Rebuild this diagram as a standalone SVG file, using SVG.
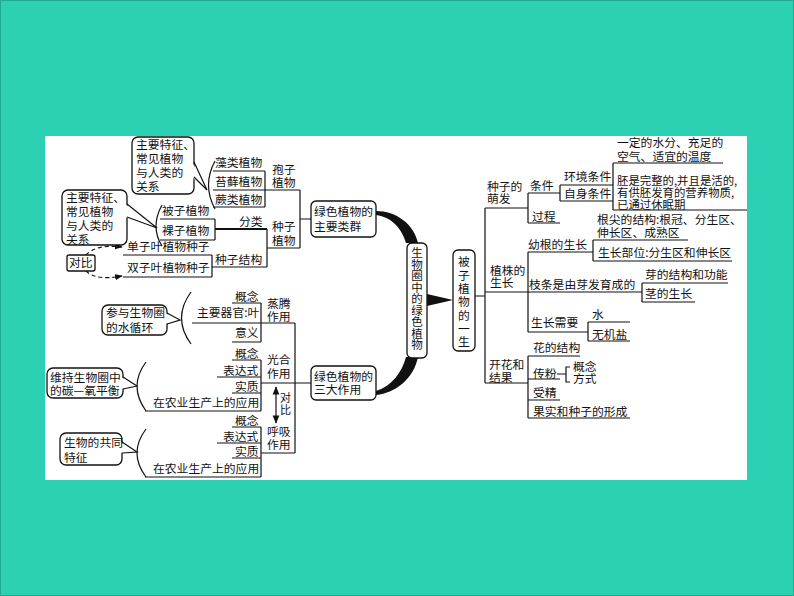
<svg xmlns="http://www.w3.org/2000/svg" width="794" height="596" viewBox="0 0 794 596">
<style>
text{font-family:"Noto Sans CJK SC","Noto Sans",sans-serif;font-size:11.8px;fill:#111}
.sm{font-size:11px}
.ln{fill:none;stroke:#111;stroke-width:1.2}
.bx{fill:#fff;stroke:#111;stroke-width:1.3}
.tail{fill:#fff;stroke:none}
.thk{stroke-width:2}
.dash{fill:none;stroke:#111;stroke-width:1.1;stroke-dasharray:4 3}
.wedge{fill:#111}
.vt{writing-mode:vertical-rl}
.tight{font-size:11.4px}
</style>
<defs>
<marker id="ah" viewBox="0 0 10 10" refX="9" refY="5" markerWidth="7" markerHeight="7" orient="auto-start-reverse">
<path d="M0,1 L10,5 L0,9 Z" fill="#111"/>
</marker>
</defs>
<rect x="0" y="0" width="794" height="596" fill="#2cd0b3"/>
<rect x="0.5" y="0.5" width="793" height="595" fill="none" stroke="#24a892" stroke-width="1"/>
<rect x="45" y="136" width="702" height="344" fill="#fff"/>

<g id="connectors">
<path class="ln" d="M213,171H265M213,190H265M213,207H265M265,171V207M265,190H300"/>
<path class="ln" d="M215,161Q202,185 215,209"/>
<path class="ln" d="M160,219H215M160,240H215M215,219V240"/>
<path class="ln thk" d="M215,229H267"/>
<path class="ln" d="M212,267H267M267,229V267M267,248H300M300,190V248M300,219H311"/>
<path class="ln" d="M162,205Q150,227 162,246"/>
<path class="ln" d="M123,255H212M123,277H212M212,255V277"/>
<path class="dash" d="M86,255Q96,244 122,247" marker-end="url(#ah)"/>
<path class="dash" d="M86,271Q96,281 122,276" marker-end="url(#ah)"/>
<path class="ln" d="M232,303H261M192,323H295M232,342H261M261,303V342"/>
<path class="ln" d="M191,292Q172,318 191,344"/>
<path class="ln" d="M232,360H261M217,377H261M232,393H261M145,411H261M261,360V411M261,383H311"/>
<path class="ln" d="M146,362Q128,386 146,411"/>
<path class="ln" d="M232,427H261M217,443H261M232,458H261M145,477H261M261,427V477M261,453H295"/>
<path class="ln" d="M146,429Q128,453 146,477"/>
<path class="ln" d="M295,323V453"/>
<path class="ln" d="M276,387V423" marker-start="url(#ah)" marker-end="url(#ah)"/>
<path class="wedge" d="M376,211C396,211 414,224 418,243L406,243C402,229 392,217 376,215Z"/>
<path class="wedge" d="M376,395C396,393 414,378 418,357L406,357C402,372 392,386 376,391Z"/>
<path class="wedge" d="M427,294L453,300L427,306Z"/>
<path class="ln" d="M475,296H485M485,208V383M485,208H528M528,193V223M528,193H560M528,223H560"/>
<path class="ln" d="M560,185V201M560,185H613M560,201H613M613,163V210M613,163H723M613,210H747"/>
<path class="ln" d="M528,252H593M593,240V261M593,240H688M593,261H732"/>
<path class="ln" d="M485,292H528M528,252V332M528,292H642M642,283V302M642,283H728M642,302H695"/>
<path class="ln" d="M528,332H588M588,322V341M588,322H630M588,341H630"/>
<path class="ln" d="M485,383H528M528,356V418M528,356H580M528,379H560M557,374H566M570,367H566V382H570M528,400H560M528,418H630"/>
</g>

<g id="callout-top1">
<rect class="bx" x="132" y="137" width="62" height="57" rx="6"/>
<path class="tail" d="M192,162L207,190L192,177Z"/>
<path class="ln" d="M194,162L207,190L194,177"/>
<text x="136" y="149">主要特征、<tspan x="136" dy="14">常见植物</tspan><tspan x="136" dy="14">与人类的</tspan><tspan x="136" dy="14">关系</tspan></text>
</g>
<g id="callout-top2">
<rect class="bx" x="62" y="190" width="65" height="55" rx="6"/>
<path class="tail" d="M125,204L157,228L125,217Z"/>
<path class="ln" d="M127,204L157,228L127,217"/>
<text x="66" y="202">主要特征、<tspan x="66" dy="14">常见植物</tspan><tspan x="66" dy="14">与人类的</tspan><tspan x="66" dy="14">关系</tspan></text>
</g>
<g id="n-zaolei"><text x="215" y="167">藻类植物</text></g>
<g id="n-taixian"><text x="215" y="186">苔藓植物</text></g>
<g id="n-juelei"><text x="215" y="204">蕨类植物</text></g>
<g id="n-baozi"><text x="272" y="174">孢子<tspan x="272" dy="13">植物</tspan></text></g>
<g id="n-beizi"><text x="162" y="215">被子植物</text></g>
<g id="n-luozi"><text x="162" y="235">裸子植物</text></g>
<g id="n-fenlei"><text x="239" y="226">分类</text></g>
<g id="n-zhongzi"><text x="272" y="231">种子<tspan x="272" dy="14">植物</tspan></text></g>
<g id="n-zzjg"><text x="215" y="264">种子结构</text></g>
<g id="n-danziye"><text x="127" y="251">单子叶植物种子</text></g>
<g id="n-shuangziye"><text x="127" y="272">双子叶植物种子</text></g>
<g id="n-duibi"><rect class="bx" x="67" y="255" width="28" height="16" rx="2"/><text x="69" y="267">对比</text></g>
<g id="n-leiqun"><rect class="bx" x="311" y="201" width="65" height="36" rx="5"/><text x="314" y="216">绿色植物的<tspan x="314" dy="15">主要类群</tspan></text></g>

<g id="callout-water">
<rect class="bx" x="102" y="305" width="65" height="30" rx="6"/>
<path class="tail" d="M165,313L180,320L165,324Z"/>
<path class="ln" d="M167,313L180,320L167,324"/>
<text x="106" y="317">参与生物圈<tspan x="106" dy="15">的水循环</tspan></text>
</g>
<g id="n-zt-gn"><text x="235" y="301">概念</text></g>
<g id="n-zt-qg"><text x="197" y="317">主要器官:叶</text></g>
<g id="n-zt-yy"><text x="235" y="337">意义</text></g>
<g id="n-zhengteng"><text x="267" y="308">蒸腾<tspan x="267" dy="13">作用</tspan></text></g>

<g id="callout-carbon">
<rect class="bx" x="47" y="368" width="76" height="30" rx="6"/>
<path class="tail" d="M121,377L137,386L121,389Z"/>
<path class="ln" d="M123,377L137,386L123,389"/>
<text x="50" y="382">维持生物圈中<tspan x="50" dy="13">的碳—氧平衡</tspan></text>
</g>
<g id="n-gh-gn"><text x="235" y="358">概念</text></g>
<g id="n-gh-bds"><text x="223" y="375">表达式</text></g>
<g id="n-gh-sz"><text x="235" y="391">实质</text></g>
<g id="n-gh-yy"><text x="153" y="407">在农业生产上的应用</text></g>
<g id="n-guanghe"><text x="267" y="364">光合<tspan x="267" dy="14">作用</tspan></text></g>
<g id="n-duibi2"><text class="sm" x="280" y="402">对<tspan x="280" dy="12">比</tspan></text></g>

<g id="callout-life">
<rect class="bx" x="60" y="433" width="62" height="32" rx="6"/>
<path class="tail" d="M120,442L137,452L120,453Z"/>
<path class="ln" d="M122,442L137,452L122,453"/>
<text x="64" y="447">生物的共同<tspan x="64" dy="15">特征</tspan></text>
</g>
<g id="n-hx-gn"><text x="235" y="425">概念</text></g>
<g id="n-hx-bds"><text x="223" y="441">表达式</text></g>
<g id="n-hx-sz"><text x="235" y="456">实质</text></g>
<g id="n-hx-yy"><text x="153" y="473">在农业生产上的应用</text></g>
<g id="n-huxi"><text x="267" y="436">呼吸<tspan x="267" dy="13">作用</tspan></text></g>
<g id="n-sanda"><rect class="bx" x="311" y="366" width="65" height="34" rx="5"/><text x="314" y="381">绿色植物的<tspan x="314" dy="13">三大作用</tspan></text></g>

<g id="n-center">
<rect class="bx" x="407" y="243" width="20" height="115" rx="5"/>
<text class="vt" x="417" y="247" style="font-size:11.5px">生物圈中的绿色植物</text>
</g>
<g id="n-yisheng">
<rect class="bx" x="453" y="250" width="22" height="101" rx="5"/>
<text class="vt" x="464" y="256" style="letter-spacing:1.5px">被子植物的一生</text>
</g>

<g id="n-mengfa"><text x="487" y="191">种子的<tspan x="487" dy="12">萌发</tspan></text></g>
<g id="n-tiaojian"><text x="530" y="190">条件</text></g>
<g id="n-guocheng"><text x="532" y="221">过程</text></g>
<g id="n-huanjing"><text x="564" y="181">环境条件</text></g>
<g id="n-zishen"><text x="564" y="198">自身条件</text></g>
<g id="n-shuifen"><text x="617" y="147">一定的水分、充足的<tspan x="617" dy="14">空气、适宜的温度</tspan></text></g>
<g id="n-pei"><text class="tight" x="617" y="185">胚是完整的,并且是活的,<tspan x="617" dy="12">有供胚发育的营养物质,</tspan><tspan x="617" dy="12">已通过休眠期</tspan></text></g>
<g id="n-genjian"><text x="597" y="224">根尖的结构:根冠、分生区、<tspan x="597" dy="13">伸长区、成熟区</tspan></text></g>
<g id="n-yougen"><text x="528" y="249">幼根的生长</text></g>
<g id="n-buwei"><text x="598" y="257">生长部位:分生区和伸长区</text></g>
<g id="n-zhizhu"><text x="490" y="275">植株的<tspan x="490" dy="12">生长</tspan></text></g>
<g id="n-zhitiao"><text x="529" y="289">枝条是由芽发育成的</text></g>
<g id="n-ya"><text x="645" y="279">芽的结构和功能</text></g>
<g id="n-jing"><text x="645" y="298">茎的生长</text></g>
<g id="n-xuyao"><text x="531" y="327">生长需要</text></g>
<g id="n-shui"><text x="592" y="319">水</text></g>
<g id="n-wujiyan"><text x="592" y="339">无机盐</text></g>
<g id="n-kaihua"><text x="489" y="369">开花和<tspan x="489" dy="13">结果</tspan></text></g>
<g id="n-huajg"><text x="533" y="352">花的结构</text></g>
<g id="n-chuanfen"><text x="533" y="378">传粉</text></g>
<g id="n-cf-sub"><text x="573" y="371">概念<tspan x="573" dy="12">方式</tspan></text></g>
<g id="n-shoujing"><text x="533" y="397">受精</text></g>
<g id="n-guoshi"><text x="533" y="416">果实和种子的形成</text></g>
</svg>
